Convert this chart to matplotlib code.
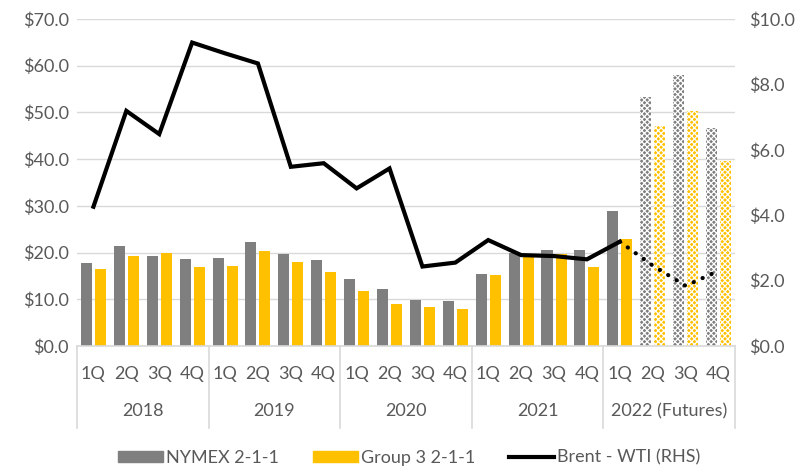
import matplotlib
matplotlib.use("Agg")
import matplotlib.pyplot as plt
from matplotlib.patches import Patch
from matplotlib.lines import Line2D
from matplotlib.transforms import blended_transform_factory

# data
years = ["2018", "2019", "2020", "2021", "2022 (Futures)"]
quarters = ["1Q", "2Q", "3Q", "4Q"]
nymex = [17.7, 21.5, 19.3, 18.6,
         18.8, 22.2, 19.6, 18.4,
         14.3, 12.1, 9.9, 9.7,
         15.5, 20.0, 20.6, 20.6,
         29.0, 53.4, 58.0, 46.7]
group3 = [16.4, 19.3, 19.9, 16.9,
          17.2, 20.3, 17.9, 15.8,
          11.8, 9.0, 8.3, 8.0,
          15.2, 19.3, 19.7, 17.0,
          22.9, 47.0, 50.4, 39.5]
brent_wti = [4.26, 7.19, 6.48, 9.28,
             8.95, 8.64, 5.48, 5.59,
             4.82, 5.43, 2.43, 2.55,
             3.24, 2.78, 2.75, 2.65,
             3.19]
brent_wti_fut = [3.19, 2.46, 1.84, 2.30]  # 1Q22..4Q22, dotted

GRAY = "#7f7f7f"
YELLOW = "#ffc000"
TXT = "#595959"
GRID = "#d9d9d9"

plt.rcParams["font.family"] = ["Lato", "DejaVu Sans"]
plt.rcParams["font.size"] = 13
plt.rcParams["hatch.linewidth"] = 0.9

fig = plt.figure(figsize=(8.02, 4.68), dpi=100)
ax = fig.add_axes([0.096, 0.2607, 0.8204, 0.6987])
ax2 = ax.twinx()

n = len(nymex)
x = list(range(n))
w = 0.335
off = 0.213
n_hist = 17

for i in x:
    fut = i >= n_hist
    kw = dict(hatch="xxxxxx", edgecolor="white", linewidth=0) if fut else dict(linewidth=0)
    ax.bar(i - off, nymex[i], width=w, color=GRAY, zorder=2, **kw)
    ax.bar(i + off, group3[i], width=w, color=YELLOW, zorder=2, **kw)

ax2.plot(x[:n_hist], brent_wti, color="black", lw=3.0, solid_joinstyle="miter", zorder=3)
ax2.plot(x[n_hist - 1:], brent_wti_fut, color="black", lw=3.0,
         linestyle=(0, (0.05, 2.3)), dash_capstyle="round", zorder=3)

ax.set_xlim(-0.5, n - 0.5)
ax.set_ylim(0, 70)
ax2.set_ylim(0, 10)
ax.set_yticks(range(0, 71, 10))
ax.set_yticklabels([f"${v:.1f}" for v in range(0, 71, 10)])
ax2.set_yticks(range(0, 11, 2))
ax2.set_yticklabels([f"${v:.1f}" for v in range(0, 11, 2)])
ax.yaxis.grid(True, color=GRID, lw=1.0, zorder=0)
ax.set_axisbelow(True)

for a in (ax, ax2):
    for s in a.spines.values():
        s.set_visible(False)
    a.tick_params(length=0, colors=TXT, labelsize=13)
ax.tick_params(axis="y", pad=6)
ax2.tick_params(axis="y", pad=10)
ax.set_xticks([])

# two-level category axis
tr = blended_transform_factory(ax.transData, ax.transAxes)
ax.plot([-0.5, n - 0.5], [0, 0], transform=tr, color=GRID, lw=1.2, clip_on=False)
for k in range(len(years) + 1):
    xb = -0.5 + 4 * k
    ax.plot([xb, xb], [0, -0.25], transform=tr, color=GRID, lw=1.2, clip_on=False)
for i in x:
    ax.text(i, -0.085, quarters[i % 4], transform=tr, ha="center", va="center",
            color=TXT, fontsize=13)
for k, yr in enumerate(years):
    ax.text(1.5 + 4 * k, -0.2, yr, transform=tr, ha="center", va="center",
            color=TXT, fontsize=13)

handles = [Patch(color=GRAY, label="NYMEX 2-1-1"),
           Patch(color=YELLOW, label="Group 3 2-1-1"),
           Line2D([], [], color="black", lw=3, label="Brent - WTI (RHS)")]
leg = fig.legend(handles=handles, loc="center", bbox_to_anchor=(0.51, 0.022), ncol=3,
                 frameon=False, handlelength=2.5, handleheight=0.6, handletextpad=0.15,
                 columnspacing=1.9, fontsize=13)
for t in leg.get_texts():
    t.set_color(TXT)

fig.savefig("out.png", dpi=100)
